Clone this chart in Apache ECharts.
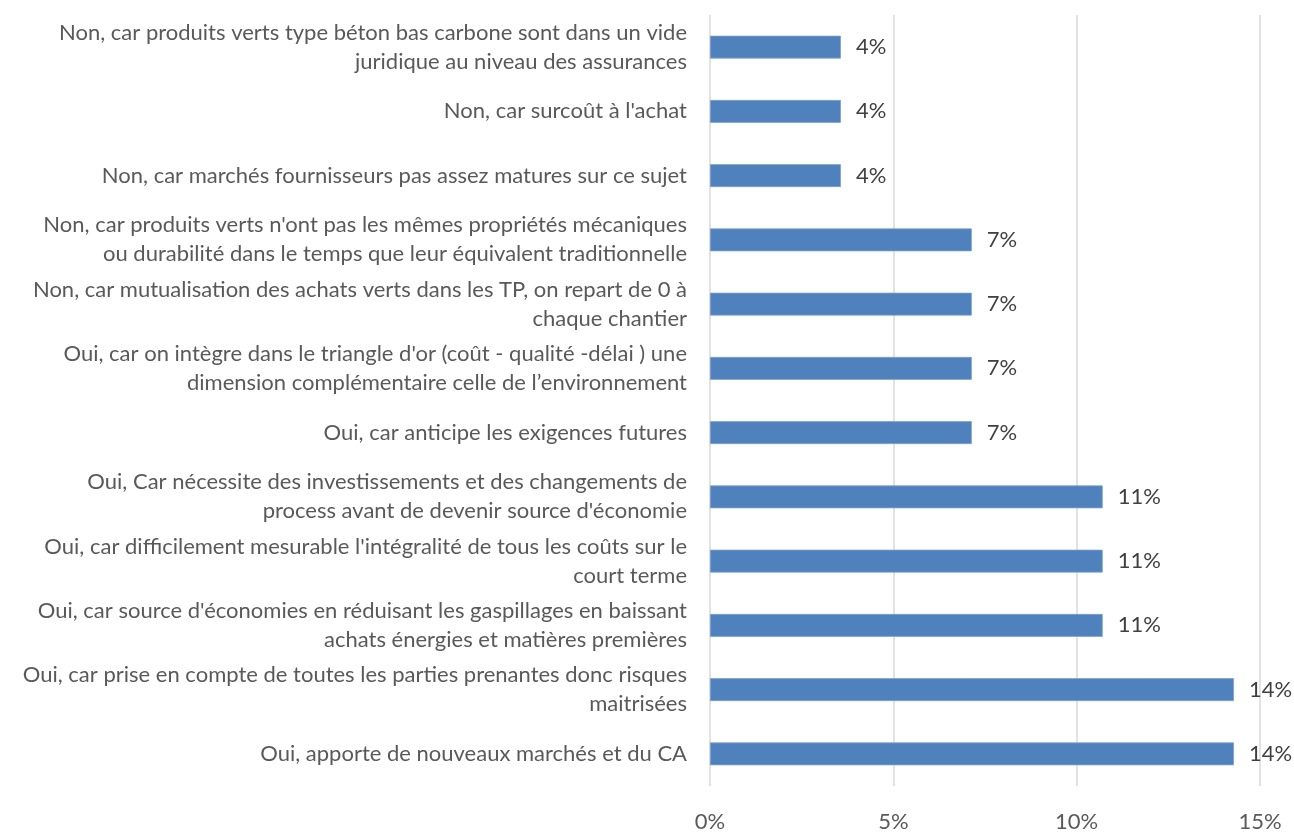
<!DOCTYPE html>
<html>
<head>
<meta charset="utf-8">
<script src="https://cdn.jsdelivr.net/npm/echarts@6/dist/echarts.min.js"></script>
<style>
  html, body { margin: 0; padding: 0; background: #fff; }
  #chart { width: 1294px; height: 833px; }
</style>
</head>
<body>
<div id="chart"></div>
<script>
// Survey answers, listed top to bottom
const categories = [
  "Non, car produits verts type béton bas carbone sont dans un vide\njuridique au niveau des assurances",
  "Non, car surcoût à l'achat",
  "Non, car marchés fournisseurs pas assez matures sur ce sujet",
  "Non, car produits verts n'ont pas les mêmes propriétés mécaniques\nou durabilité dans le temps que leur équivalent traditionnelle",
  "Non, car mutualisation des achats verts dans les TP, on repart de 0 à\nchaque chantier",
  "Oui, car on intègre dans le triangle d'or (coût - qualité -délai ) une\ndimension complémentaire celle de l\u2019environnement",
  "Oui, car anticipe les exigences futures",
  "Oui, Car nécessite des investissements et des changements de\nprocess avant de devenir source d'économie",
  "Oui, car difficilement mesurable l'intégralité de tous les coûts sur le\ncourt terme",
  "Oui, car source d'économies en réduisant les gaspillages en baissant\nachats énergies et matières premières",
  "Oui, car prise en compte de toutes les parties prenantes donc risques\nmaitrisées",
  "Oui, apporte de nouveaux marchés et du CA"
];

// Share of respondents (%)
const shares = [3.57, 3.57, 3.57, 7.14, 7.14, 7.14, 7.14, 10.71, 10.71, 10.71, 14.29, 14.29];

// Value axis tick positions (%)
const axisMin = 0;
const axisMax = 15;
const axisStep = 5;

const textColor = "#595959";
const fontFamily = "Lato, 'Open Sans', sans-serif";

const chart = echarts.init(document.getElementById("chart"), null, { renderer: "canvas" });

chart.setOption({
  animation: false,
  backgroundColor: "#ffffff",
  grid: { left: 710, right: 34, top: 15, bottom: 41, containLabel: false },
  xAxis: {
    type: "value",
    min: axisMin,
    max: axisMax,
    interval: axisStep,
    axisLine: { show: false },
    axisTick: { show: false },
    splitLine: { show: true, lineStyle: { color: "#d9d9d9", width: 1.5 } },
    axisLabel: {
      formatter: v => v + "%",
      color: textColor,
      fontFamily: fontFamily,
      fontSize: 22,
      margin: 25
    }
  },
  yAxis: {
    type: "category",
    inverse: true,
    data: categories,
    axisLine: { show: false },
    axisTick: { show: false },
    axisLabel: {
      color: textColor,
      fontFamily: fontFamily,
      fontSize: 22,
      lineHeight: 29,
      align: "right",
      margin: 23
    }
  },
  series: [{
    type: "bar",
    data: shares,
    barCategoryGap: "64.5%",
    itemStyle: { color: "#4f81bd", borderColor: "#7a9fd0", borderWidth: 0.8 },
    label: {
      show: true,
      position: "right",
      distance: 15,
      formatter: p => Math.round(p.value) + "%",
      color: "#404040",
      fontFamily: fontFamily,
      fontSize: 22
    }
  }]
});
</script>
</body>
</html>
